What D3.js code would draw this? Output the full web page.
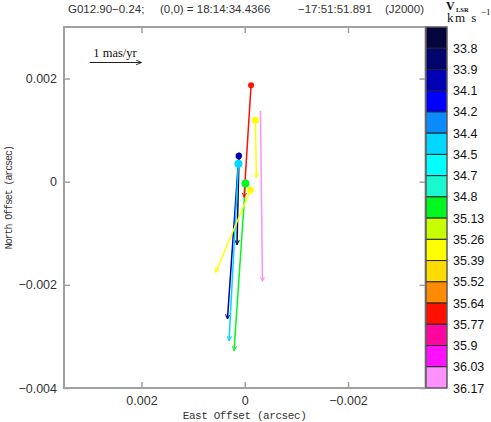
<!DOCTYPE html>
<html>
<head>
<meta charset="utf-8">
<script src="https://cdn.jsdelivr.net/npm/d3@7"></script>
<style>
  body { margin: 0; background: #fff; }
  svg { display: block; }
</style>
</head>
<body>
<div class="canvas"></div>
<script>
/**
 * Data
 */
// colour bar: V_LSR velocities (km/s) and box colours
const velocities = ["33.8", "33.9", "34.1", "34.2", "34.4", "34.5", "34.7", "34.8", "35.13",
    "35.26", "35.39", "35.52", "35.64", "35.77", "35.9", "36.03", "36.17"]
const velColors = ["#06063c", "#04046e", "#0000b4", "#0000ff", "#0a8cff", "#00d8ff", "#00ffff",
    "#1af8d0", "#00f820", "#c8ff00", "#ffff00", "#ffdc00", "#ff8c00", "#ff1000", "#ff06a0",
    "#ff10ff", "#ff90ff"]

// maser spots: velocity, offsets (arcsec), proper motion (mas/yr), spot size
const spotVel = ["33.8", "34.1", "34.5", "35.13", "35.39", "35.39", "35.77", "36.17"]
const spotX = [0.000110, 0.000116, 0.000122, -0.000014, -0.000207, -0.000110, -0.000122, -0.000304]
const spotY = [0.000520, 0.000500, 0.000348, -0.000033, 0.001194, -0.000161, 0.001871, 0.001374]
const pmEast = [0.040, 0.219, 0.182, 0.221, -0.019, 0.672, 0.135, -0.039]
const pmNorth = [-1.74, -3.16, -3.43, -3.24, -1.12, -1.595, -2.17, -3.30]
const spotR = [2.5, 3.2, 4, 4, 3.5, 3.5, 3, 0]

const xTicks = [0.002, 0, -0.002]
const yTicks = [0.002, 0, -0.002, -0.004]

/**
 * Dimensions
 */
const dims = { width: 491, height: 422 }
const plot = { left: 64, right: 425.5, top: 27, bottom: 388 }

const svg = d3.select(".canvas")
    .append("svg")
    .attr("width", dims.width)
    .attr("height", dims.height)

const x = d3.scaleLinear().domain([0.0035, -0.0035]).range([plot.left, plot.right])
const y = d3.scaleLinear().domain([-0.004, 0.003]).range([plot.bottom, plot.top])
const colorOf = d3.scaleOrdinal().domain(velocities).range(velColors)

const fmt = d => d === 0 ? "0" : d3.format(".3f")(d)

// arrow markers, one per colour
const defs = svg.append("defs")
velColors.forEach((c, i) => {
    defs.append("marker")
        .attr("id", "ah" + i)
        .attr("viewBox", "0 -5 10 10")
        .attr("refX", 9)
        .attr("refY", 0)
        .attr("markerWidth", 5)
        .attr("markerHeight", 5)
        .attr("markerUnits", "userSpaceOnUse")
        .attr("orient", "auto")
      .append("path")
        .attr("d", "M0,-4.5L9,0L0,4.5")
        .attr("fill", "none")
        .attr("stroke", c)
        .attr("stroke-width", 2)
})
defs.append("marker")
    .attr("id", "ahk")
    .attr("viewBox", "0 -5 10 10")
    .attr("refX", 9).attr("refY", 0)
    .attr("markerWidth", 6).attr("markerHeight", 6)
    .attr("markerUnits", "userSpaceOnUse")
    .attr("orient", "auto")
  .append("path")
    .attr("d", "M0,-4L9,0L0,4")
    .attr("fill", "none")
    .attr("stroke", "#222")
    .attr("stroke-width", 1.5)

/**
 * Axes
 */
const axisColor = "#a0a0a0"
const styleAxis = g => {
    g.select(".domain").remove()
    g.selectAll(".tick line").attr("stroke", axisColor).attr("stroke-width", 1.5)
    g.selectAll(".tick text")
        .attr("fill", "#333")
        .style("font-family", "'Liberation Sans', Arial, sans-serif")
        .style("font-size", "12.5px")
}

svg.append("g")
    .attr("transform", `translate(0, ${plot.bottom})`)
    .call(d3.axisBottom(x).tickValues(xTicks).tickFormat(fmt).tickSizeInner(-6).tickSizeOuter(0).tickPadding(8))
    .call(styleAxis)
svg.append("g")
    .attr("transform", `translate(0, ${plot.top})`)
    .call(d3.axisTop(x).tickValues(xTicks).tickFormat("").tickSizeInner(-6).tickSizeOuter(0))
    .call(styleAxis)
svg.append("g")
    .attr("transform", `translate(${plot.left}, 0)`)
    .call(d3.axisLeft(y).tickValues(yTicks).tickFormat(fmt).tickSizeInner(-6).tickSizeOuter(0).tickPadding(7))
    .call(styleAxis)
svg.append("g")
    .attr("transform", `translate(${plot.right}, 0)`)
    .call(d3.axisRight(y).tickValues(yTicks).tickFormat("").tickSizeInner(-6).tickSizeOuter(0))
    .call(styleAxis)

// frame
svg.append("rect")
    .attr("x", plot.left)
    .attr("y", plot.top)
    .attr("width", plot.right - plot.left)
    .attr("height", plot.bottom - plot.top)
    .attr("fill", "none")
    .attr("stroke", axisColor)
    .attr("stroke-width", 2)

// axis titles
svg.append("text")
    .attr("x", x(0))
    .attr("y", 419)
    .attr("text-anchor", "middle")
    .attr("textLength", 124)
    .attr("fill", "#333")
    .style("font-family", "'Liberation Mono', 'Courier New', monospace")
    .style("font-size", "11px")
    .text("East Offset (arcsec)")

svg.append("text")
    .attr("transform", `translate(12, ${y(-0.0003)}) rotate(-90)`)
    .attr("text-anchor", "middle")
    .attr("textLength", 104)
    .attr("fill", "#333")
    .style("font-family", "'Liberation Mono', 'Courier New', monospace")
    .style("font-size", "10px")
    .text("North Offset (arcsec)")

// header
const header = svg.append("g")
    .attr("fill", "#333")
    .style("font-family", "'Liberation Sans', Arial, sans-serif")
    .style("font-size", "11.5px")
header.append("text").attr("x", 68).attr("y", 13).text("G012.90\u22120.24;")
header.append("text").attr("x", 160).attr("y", 13).text("(0,0) = 18:14:34.4366")
header.append("text").attr("x", 298).attr("y", 13).text("\u221217:51:51.891")
header.append("text").attr("x", 385).attr("y", 13).text("(J2000)")

/**
 * Scale arrow: 1 mas/yr
 */
svg.append("text")
    .attr("x", 115)
    .attr("y", 57)
    .attr("text-anchor", "middle")
    .attr("fill", "#111")
    .style("font-family", "'Liberation Serif', 'Times New Roman', serif")
    .style("font-size", "12.5px")
    .text("1 mas/yr")
svg.append("line")
    .attr("x1", x(0.0030))
    .attr("x2", x(0.0030 - 0.001))
    .attr("y1", 62.5)
    .attr("y2", 62.5)
    .attr("stroke", "#222")
    .attr("stroke-width", 1)
    .attr("marker-end", "url(#ahk)")

/**
 * Spots and motion vectors
 */
const spots = spotVel.map((v, i) => ({
    vel: v, x: spotX[i], y: spotY[i], ve: pmEast[i], vn: pmNorth[i], r: spotR[i]
}))

const graph = svg.append("g")

graph.selectAll(".vec")
    .data(spots)
    .enter()
    .append("line")
    .attr("class", "vec")
    .attr("x1", d => x(d.x))
    .attr("y1", d => y(d.y))
    .attr("x2", d => x(d.x + d.ve * 0.001))
    .attr("y2", d => y(d.y + d.vn * 0.001))
    .attr("stroke", d => colorOf(d.vel))
    .attr("stroke-width", 1.5)
    .attr("marker-end", d => `url(#ah${velocities.indexOf(d.vel)})`)

graph.selectAll(".spot")
    .data(spots.filter(d => d.r > 0))
    .enter()
    .append("circle")
    .attr("class", "spot")
    .attr("cx", d => x(d.x))
    .attr("cy", d => y(d.y))
    .attr("r", d => d.r)
    .attr("fill", d => colorOf(d.vel))

/**
 * Colour bar
 */
const cb = { x: 426, width: 21 }
const cy = d3.scaleBand().domain(velocities).range([plot.top, plot.bottom])

const bar = svg.append("g")
bar.selectAll("rect")
    .data(velocities)
    .enter()
    .append("rect")
    .attr("x", cb.x)
    .attr("y", d => cy(d))
    .attr("width", cb.width)
    .attr("height", cy.bandwidth())
    .attr("fill", d => colorOf(d))
    .attr("stroke", "#222")
    .attr("stroke-width", 1)

bar.append("rect")
    .attr("x", cb.x)
    .attr("y", plot.top)
    .attr("width", cb.width)
    .attr("height", plot.bottom - plot.top)
    .attr("fill", "none")
    .attr("stroke", "#777")
    .attr("stroke-width", 1)

bar.selectAll(".cblab")
    .data(velocities)
    .enter()
    .append("text")
    .attr("class", "cblab")
    .attr("x", 453)
    .attr("y", d => cy(d) + cy.bandwidth())
    .attr("dy", "0.36em")
    .attr("fill", "#111")
    .style("font-family", "'Liberation Sans', Arial, sans-serif")
    .style("font-size", "12.5px")
    .text(d => d)

// colour bar title (one text element, parts as tspans)
const ttl = svg.append("text")
    .attr("fill", "#111")
    .style("font-family", "'Liberation Serif', 'Times New Roman', serif")
ttl.append("tspan").attr("x", 446).attr("y", 10).style("font-size", "12px")
    .style("font-weight", "bold").text("V")
ttl.append("tspan").attr("x", 456).attr("y", 12).style("font-size", "6.5px")
    .style("font-weight", "bold").text("LSR")
ttl.append("tspan").attr("x", 447).attr("y", 22).style("font-size", "13px")
    .style("letter-spacing", "1.5px").text("km s")
ttl.append("tspan").attr("x", 481).attr("y", 15).style("font-size", "9px").text("\u22121")
</script>
</body>
</html>
